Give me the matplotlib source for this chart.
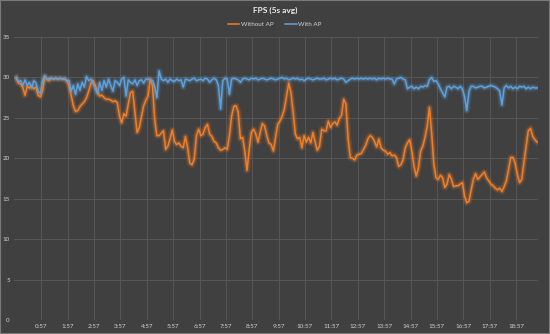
import matplotlib
matplotlib.use("Agg")
import matplotlib.pyplot as plt
import numpy as np

# FPS, 5 second averages, one row per minute (12 samples of 5 s)
without_ap = [
    30.0, 29.3, 29.2, 28.8, 27.8, 28.9, 28.7, 29.0, 28.6, 28.8, 27.8, 27.6,
    28.4, 30.1, 29.8, 29.6, 29.9, 29.8, 29.9, 29.8, 29.9, 29.8, 29.8, 29.6,
    29.0, 27.8, 26.5, 25.8, 25.9, 26.4, 26.7, 27.0, 27.5, 28.3, 29.3, 29.6,
    29.0, 28.2, 27.7, 27.8, 27.5, 27.3, 27.3, 27.2, 27.0, 27.1, 26.9, 25.2,
    24.4, 25.5, 25.2, 26.7, 28.1, 28.3, 25.7, 23.2, 23.8, 25.2, 26.5, 27.2,
    27.7, 29.8, 29.0, 24.8, 22.8, 22.8, 23.1, 23.4, 21.1, 21.5, 22.4, 23.5,
    22.1, 21.7, 21.9, 21.5, 21.3, 22.7, 21.3, 19.4, 19.2, 19.9, 22.8, 23.6,
    22.8, 23.0, 23.8, 24.2, 23.0, 22.7, 22.1, 21.9, 21.3, 21.0, 21.1, 21.3,
    21.1, 22.8, 25.2, 26.4, 26.5, 25.7, 22.4, 22.6, 20.9, 18.5, 21.1, 23.2,
    23.6, 23.0, 22.0, 23.2, 24.3, 24.0, 22.8, 21.9, 21.7, 20.9, 22.6, 24.2,
    24.6, 25.2, 26.1, 27.7, 29.3, 28.1, 25.7, 23.0, 22.4, 22.6, 21.3, 22.8,
    22.0, 22.6, 21.9, 23.2, 22.0, 21.0, 21.5, 23.6, 23.4, 23.4, 24.6, 23.8,
    24.3, 24.5, 24.1, 24.9, 25.3, 27.3, 26.7, 22.4, 20.1, 20.0, 19.8, 20.4,
    20.5, 20.6, 21.1, 21.6, 22.4, 22.8, 22.6, 22.1, 21.4, 22.4, 21.3, 21.0,
    20.9, 20.5, 20.7, 20.3, 20.4, 20.1, 19.0, 19.2, 19.8, 21.3, 21.9, 22.3,
    20.9, 19.0, 17.8, 18.8, 20.9, 21.5, 22.6, 24.0, 26.3, 23.2, 19.3, 17.6,
    17.4, 17.9, 17.6, 16.4, 16.8, 18.0, 17.4, 16.5, 16.6, 16.6, 16.8, 17.0,
    15.3, 14.5, 14.7, 16.1, 17.4, 18.1, 17.4, 17.7, 18.0, 18.3, 17.6, 17.2,
    16.8, 16.6, 16.3, 16.1, 16.3, 15.9, 16.5, 17.2, 18.6, 20.1, 20.1, 19.4,
    18.0, 17.0, 17.4, 19.5, 21.5, 23.4, 23.7, 22.7, 22.3, 22.0,
]

with_ap = [
    29.9, 29.5, 29.6, 29.0, 29.7, 29.0, 29.4, 28.7, 29.6, 29.3, 28.3, 28.0,
    29.6, 30.2, 29.7, 29.9, 29.9, 29.8, 29.9, 29.8, 29.9, 29.8, 29.9, 29.6,
    29.6, 28.3, 29.0, 27.9, 29.2, 28.4, 29.4, 28.8, 30.1, 29.6, 29.8, 29.2,
    28.6, 28.0, 29.4, 28.4, 29.6, 28.8, 29.8, 29.0, 28.3, 29.6, 29.4, 29.0,
    29.8, 30.0, 27.7, 29.7, 29.4, 29.2, 29.7, 29.0, 29.6, 29.7, 29.3, 29.8,
    29.8, 29.7, 29.6, 28.9, 27.5, 30.8, 29.8, 29.6, 29.8, 29.4, 29.8, 29.6,
    29.5, 29.8, 29.6, 29.7, 28.8, 29.8, 29.7, 29.6, 29.8, 29.9, 29.6, 29.7,
    29.8, 29.6, 29.9, 29.8, 29.4, 29.7, 29.9, 29.7, 29.0, 26.1, 29.6, 29.9,
    29.8, 27.9, 29.8, 29.9, 29.8, 29.7, 29.4, 29.8, 29.9, 29.8, 29.7, 29.9,
    29.8, 29.9, 29.7, 29.8, 29.9, 29.8, 29.7, 29.8, 29.9, 29.8, 29.7, 29.8,
    29.9, 30.0, 29.8, 29.9, 29.7, 29.8, 29.9, 29.8, 29.9, 29.7, 29.8, 29.6,
    29.8, 29.9, 29.8, 29.7, 29.8, 29.9, 29.8, 29.8, 29.9, 29.7, 29.8, 29.9,
    29.8, 29.9, 29.7, 29.8, 29.9, 29.8, 29.4, 29.6, 29.8, 29.9, 29.8, 29.9,
    29.8, 29.9, 29.8, 29.9, 29.8, 29.9, 29.8, 29.9, 29.7, 29.9, 29.8, 29.9,
    29.8, 29.9, 29.8, 29.8, 29.2, 29.8, 29.9, 30.0, 29.8, 29.7, 28.6, 28.8,
    28.9, 28.6, 28.8, 28.6, 28.9, 28.8, 29.0, 28.9, 29.7, 30.0, 29.5, 29.6,
    29.2, 28.6, 28.1, 27.6, 28.8, 28.9, 28.6, 28.9, 28.8, 28.6, 28.9, 28.6,
    27.6, 25.9, 28.3, 28.9, 28.9, 28.7, 28.8, 28.9, 28.9, 28.7, 28.8, 28.9,
    29.0, 28.9, 28.8, 28.6, 28.3, 26.6, 28.7, 29.0, 28.7, 28.9, 28.6, 28.8,
    28.6, 28.9, 28.8, 28.9, 28.6, 28.8, 28.6, 28.8, 28.7, 28.7,
]

seconds = np.arange(len(without_ap)) * 5
tick_secs = [57 + 60 * m for m in range(19)]
tick_labels = [f"{m}:57" for m in range(19)]

BG = "#404040"
GRID = "#575757"
TEXT = "#d0d0d0"
ORANGE = "#f07f2a"
BLUE = "#5ea1dc"

plt.rcParams["font.family"] = ["Lato", "DejaVu Sans"]

fig = plt.figure(figsize=(5.5, 3.34), dpi=100, facecolor=BG)
ax = fig.add_axes([14 / 550, 1 - 320 / 334, 524 / 550, 283 / 334])
ax.set_facecolor(BG)

for y, col in ((without_ap, ORANGE), (with_ap, BLUE)):
    # soft glow under each line
    ax.plot(seconds, y, color=col, lw=4.8, alpha=0.12, solid_joinstyle="round")
    ax.plot(seconds, y, color=col, lw=3.0, alpha=0.25, solid_joinstyle="round")

l1, = ax.plot(seconds, without_ap, color=ORANGE, lw=1.1, label="Without AP")
l2, = ax.plot(seconds, with_ap, color=BLUE, lw=1.1, label="With AP")

ax.set_xlim(-5, 1187)
ax.set_ylim(0, 35)
ax.set_yticks(range(0, 36, 5))
ax.set_xticks(tick_secs)
ax.set_xticklabels(tick_labels)
ax.grid(True, color=GRID, lw=0.7)
ax.set_axisbelow(True)
ax.tick_params(length=0, colors=TEXT, labelsize=4.5, pad=3)
for s in ax.spines.values():
    s.set_visible(False)

fig.text(0.5, 1 - 10 / 334, "FPS (5s avg)", ha="center", va="center",
         color="#eeeeee", fontsize=6, fontweight="bold")
fig.legend(handles=[l1, l2], loc="center", bbox_to_anchor=(0.5, 1 - 24 / 334),
           ncol=2, frameon=False, fontsize=4.5, labelcolor=TEXT,
           handlelength=1.8, handletextpad=0.3, columnspacing=1.8)

fig.patches.append(plt.Rectangle((0, 0), 1, 1, transform=fig.transFigure,
                                 fill=False, edgecolor="#7a7a7a", lw=1.5))

fig.savefig("out.png", dpi=100, facecolor=BG)
